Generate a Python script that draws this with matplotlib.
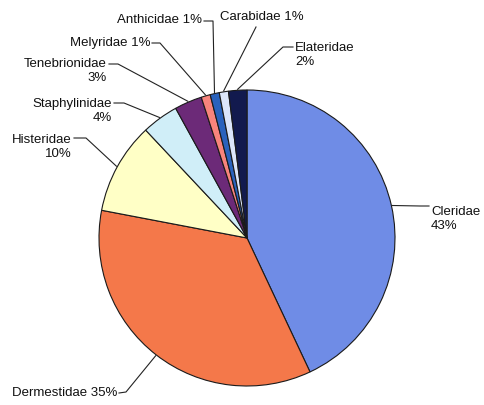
import numpy as np
import matplotlib
matplotlib.use("Agg")
import matplotlib.pyplot as plt

# DATA
families = ["Cleridae", "Dermestidae", "Histeridae", "Staphylinidae", "Tenebrionidae",
            "Melyridae", "Anthicidae", "Carabidae", "Elateridae"]
percent = [43, 35, 10, 4, 3, 1, 1, 1, 2]
colors = ["#6f8ce6", "#f4784a", "#ffffc6", "#d0eef8", "#6c2a78",
          "#f8847c", "#2a62bc", "#dce6fa", "#121a4e"]
label_text = ["Cleridae\n43%", "Dermestidae 35%", "Histeridae\n10%", "Staphylinidae\n4%",
              "Tenebrionidae\n3%", "Melyridae 1%", "Anthicidae 1%", "Carabidae 1%",
              "Elateridae\n2%"]

# LAYOUT (pixel coords, y down)
W, H = 484, 405
cx, cy, R = 247, 238, 148
# text anchor x, y, alignment, leader elbow points (from text toward pie)
label_pos = [
    (431, 219, "left", [(429, 206), (420, 206)]),
    (117, 393, "right", [(119, 393), (126, 392)]),
    (72, 147, "right", [(74, 138), (86, 138)]),
    (112, 111, "right", [(114, 103), (124, 103)]),
    (107, 71, "right", [(109, 64), (118, 64)]),
    (150, 43, "right", [(152, 43), (160, 43)]),
    (202, 20, "right", [(204, 21), (213, 21)]),
    (220, 17, "left", [(256, 27)]),
    (295, 55, "left", [(293, 47), (283, 47)]),
]

def py(y):
    return H - y

fig = plt.figure(figsize=(4.84, 4.05), dpi=100)
ax = fig.add_axes([0, 0, 1, 1])
ax.pie(percent, colors=colors, startangle=90, counterclock=False,
       center=(cx, py(cy)), radius=R,
       wedgeprops=dict(edgecolor="#1a1a1a", linewidth=0.8))
ax.set_xlim(0, W)
ax.set_ylim(0, H)
ax.set_aspect("equal")
ax.axis("off")

# mid angle of each slice, clockwise from top
p = np.array(percent, dtype=float)
mid = (np.cumsum(p) - p / 2) / p.sum() * 2 * np.pi

for txt, (x, y, ha, pts), a in zip(label_text, label_pos, mid):
    ex = cx + (R + 1) * np.sin(a)
    ey = cy - (R + 1) * np.cos(a)
    xs = [q[0] for q in pts] + [ex]
    ys = [py(q[1]) for q in pts] + [py(ey)]
    ax.plot(xs, ys, color="#222222", lw=0.8)
    ax.text(x, py(y), txt, ha=ha, va="center", multialignment=ha,
            fontsize=9.5, family="Liberation Sans", color="#111111",
            linespacing=1.15)

fig.savefig("out.png", dpi=100)
